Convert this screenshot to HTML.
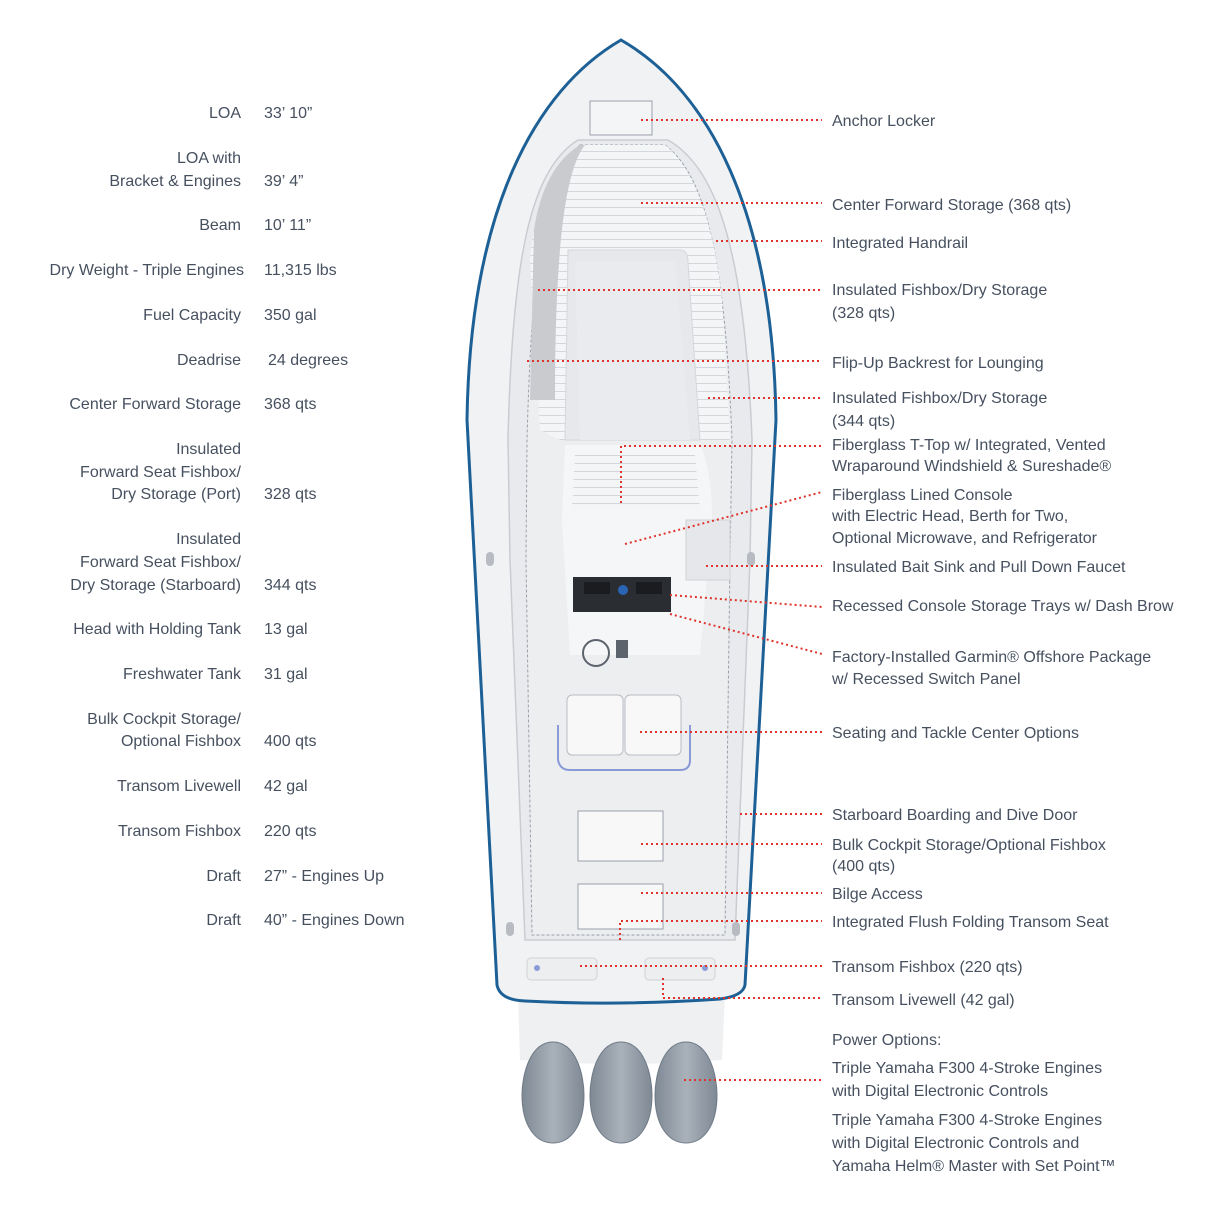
<!DOCTYPE html>
<html><head><meta charset="utf-8"><style>
html,body{margin:0;padding:0;background:#fff}
svg text{font-family:"Liberation Sans",sans-serif;font-size:16px;fill:#46505f}
.r{text-anchor:end}
.d{stroke:#e0332b;stroke-width:2;stroke-dasharray:2 3;fill:none}
</style></head><body>
<svg width="1206" height="1206" viewBox="0 0 1206 1206" xmlns="http://www.w3.org/2000/svg">
<defs>
<linearGradient id="eg" x1="0" x2="1"><stop offset="0" stop-color="#7f8994"/><stop offset="0.5" stop-color="#a9b1ba"/><stop offset="1" stop-color="#7f8994"/></linearGradient>
<pattern id="sl" width="10" height="8" patternUnits="userSpaceOnUse"><rect width="10" height="8" fill="#f4f5f6"/><line x1="0" y1="7.5" x2="10" y2="7.5" stroke="#d3d6da" stroke-width="1"/></pattern>
</defs>
<!-- engines base -->
<path d="M518,995 L725,995 L722,1060 Q620,1068 520,1060 Z" fill="#eef0f2"/>
<g fill="url(#eg)" stroke="#6f7a87" stroke-width="1">
<path d="M553,1042 C530,1042 522,1075 522,1095 C522,1125 535,1143 553,1143 C571,1143 584,1125 584,1095 C584,1075 576,1042 553,1042 Z"/>
<path d="M621,1042 C598,1042 590,1075 590,1095 C590,1125 603,1143 621,1143 C639,1143 652,1125 652,1095 C652,1075 644,1042 621,1042 Z"/>
<path d="M686,1042 C663,1042 655,1075 655,1095 C655,1125 668,1143 686,1143 C704,1143 717,1125 717,1095 C717,1075 709,1042 686,1042 Z"/>
</g>
<!-- hull -->
<path d="M621,40 C535,90 470,210 467,420 L497,985 Q500,1000 525,1001 Q620,1006 720,999 Q743,996 745,985 L776,420 C773,210 708,90 621,40 Z" fill="#f1f2f4" stroke="#1d6096" stroke-width="3"/>
<!-- bow cockpit -->
<path d="M578,140 L668,140 C720,170 745,260 752,440 L750,560 L735,940 L525,940 L510,560 L508,440 C512,260 530,170 578,140 Z" fill="#e8eaed" stroke="#c9ccd1" stroke-width="1.5"/>
<path d="M580,145 L665,145 C705,175 725,255 732,440 L730,560 L725,935 L532,935 L526,560 L527,440 C532,255 545,175 580,145 Z" fill="#eceef0" stroke="#9aa0aa" stroke-width="1" stroke-dasharray="3 2"/>
<path d="M530,260 C535,200 555,165 582,145 L665,145 C690,165 712,210 722,300 L730,440 L560,440 L540,430 Z" fill="url(#sl)"/>
<path d="M534,230 C540,190 555,160 580,145 L585,145 C565,170 555,250 555,400 L530,400 Z" fill="#c9cbcf"/>
<!-- center seat island -->
<path d="M568,250 L680,250 Q688,250 688,262 L700,440 L565,440 Z" fill="#e6e8eb" stroke="#d5d7db"/>
<path d="M575,262 L675,262 L690,440 L580,440 Z" fill="#e9ebee"/>
<!-- anchor locker -->
<rect x="590" y="101" width="62" height="34" fill="#f4f5f6" stroke="#9aa0aa"/>
<!-- console -->
<path d="M565,445 L700,445 Q712,470 712,520 L700,655 L570,655 L562,520 Z" fill="#f5f6f7"/>
<path d="M575,455 L695,455 L700,510 L572,510 Z" fill="url(#sl)"/>
<rect x="686" y="520" width="44" height="60" fill="#e5e7ea" stroke="#cfd2d6"/>
<rect x="573" y="577" width="98" height="35" fill="#2a2d31"/>
<rect x="584" y="582" width="26" height="12" fill="#1a1c1f"/><rect x="636" y="582" width="26" height="12" fill="#1a1c1f"/>
<circle cx="623" cy="590" r="5" fill="#2a64b5"/>
<circle cx="596" cy="653" r="13" fill="none" stroke="#5c636c" stroke-width="2"/>
<rect x="616" y="640" width="12" height="18" fill="#5c636c"/>
<!-- seats -->
<rect x="567" y="695" width="56" height="60" rx="5" fill="#f8f8f9" stroke="#b8bcc2"/>
<rect x="625" y="695" width="56" height="60" rx="5" fill="#f8f8f9" stroke="#b8bcc2"/>
<path d="M558,725 L558,760 Q560,770 570,770 L680,770 Q690,770 690,760 L690,725" fill="none" stroke="#8a9ad6" stroke-width="2"/>
<!-- hatches -->
<rect x="578" y="811" width="85" height="50" fill="#f8f8f9" stroke="#9aa0aa"/>
<rect x="578" y="884" width="85" height="45" fill="#f8f8f9" stroke="#9aa0aa"/>
<rect x="527" y="958" width="70" height="22" rx="4" fill="#eceef0" stroke="#cfd2d6"/>
<rect x="645" y="958" width="70" height="22" rx="4" fill="#eceef0" stroke="#cfd2d6"/>
<circle cx="537" cy="968" r="3" fill="#8a9ad6"/><circle cx="705" cy="968" r="3" fill="#8a9ad6"/>
<g fill="#b8bcc2"><rect x="486" y="552" width="8" height="14" rx="4"/><rect x="747" y="552" width="8" height="14" rx="4"/><rect x="506" y="922" width="8" height="14" rx="4"/><rect x="732" y="922" width="8" height="14" rx="4"/></g>
<!-- connectors -->
<path class="d" d="M641,120H822M641,203H822M716,241H822M538,290H822M527,361H822M708,398H822M621,503V446H822M625,544L822,492M706,566H822M670,595L822,607M670,614L822,654M640,732H822M740,814H822M641,844H822M641,893H822M620,940V921H822M580,966H822M663,978V998H822M684,1080H822"/>
<!-- left labels -->
<g>
<text class="r" x="241" y="118">LOA</text><text x="264" y="118">33’ 10”</text>
<text class="r" x="241" y="163">LOA with</text><text class="r" x="241" y="186">Bracket &amp; Engines</text><text x="264" y="186">39’ 4”</text>
<text class="r" x="241" y="230">Beam</text><text x="264" y="230">10’ 11”</text>
<text class="r" x="244" y="275">Dry Weight - Triple Engines</text><text x="264" y="275">11,315 lbs</text>
<text class="r" x="241" y="320">Fuel Capacity</text><text x="264" y="320">350 gal</text>
<text class="r" x="241" y="365">Deadrise</text><text x="268" y="365">24 degrees</text>
<text class="r" x="241" y="409">Center Forward Storage</text><text x="264" y="409">368 qts</text>
<text class="r" x="241" y="454">Insulated</text><text class="r" x="241" y="477">Forward Seat Fishbox/</text><text class="r" x="241" y="499">Dry Storage (Port)</text><text x="264" y="499">328 qts</text>
<text class="r" x="241" y="544">Insulated</text><text class="r" x="241" y="567">Forward Seat Fishbox/</text><text class="r" x="241" y="590">Dry Storage (Starboard)</text><text x="264" y="590">344 qts</text>
<text class="r" x="241" y="634">Head with Holding Tank</text><text x="264" y="634">13 gal</text>
<text class="r" x="241" y="679">Freshwater Tank</text><text x="264" y="679">31 gal</text>
<text class="r" x="241" y="724">Bulk Cockpit Storage/</text><text class="r" x="241" y="746">Optional Fishbox</text><text x="264" y="746">400 qts</text>
<text class="r" x="241" y="791">Transom Livewell</text><text x="264" y="791">42 gal</text>
<text class="r" x="241" y="836">Transom Fishbox</text><text x="264" y="836">220 qts</text>
<text class="r" x="241" y="881">Draft</text><text x="264" y="881">27” - Engines Up</text>
<text class="r" x="241" y="925">Draft</text><text x="264" y="925">40” - Engines Down</text>
</g>
<!-- right labels -->
<g>
<text x="832" y="126">Anchor Locker</text>
<text x="832" y="210">Center Forward Storage (368 qts)</text>
<text x="832" y="248">Integrated Handrail</text>
<text x="832" y="295">Insulated Fishbox/Dry Storage</text><text x="832" y="318">(328 qts)</text>
<text x="832" y="368">Flip-Up Backrest for Lounging</text>
<text x="832" y="403">Insulated Fishbox/Dry Storage</text><text x="832" y="426">(344 qts)</text>
<text x="832" y="450">Fiberglass T-Top w/ Integrated, Vented</text><text x="832" y="471">Wraparound Windshield &amp; Sureshade®</text>
<text x="832" y="500">Fiberglass Lined Console</text><text x="832" y="521">with Electric Head, Berth for Two,</text><text x="832" y="543">Optional Microwave, and Refrigerator</text>
<text x="832" y="572">Insulated Bait Sink and Pull Down Faucet</text>
<text x="832" y="611">Recessed Console Storage Trays w/ Dash Brow</text>
<text x="832" y="662">Factory-Installed Garmin® Offshore Package</text><text x="832" y="684">w/ Recessed Switch Panel</text>
<text x="832" y="738">Seating and Tackle Center Options</text>
<text x="832" y="820">Starboard Boarding and Dive Door</text>
<text x="832" y="850">Bulk Cockpit Storage/Optional Fishbox</text><text x="832" y="871">(400 qts)</text>
<text x="832" y="899">Bilge Access</text>
<text x="832" y="927">Integrated Flush Folding Transom Seat</text>
<text x="832" y="972">Transom Fishbox (220 qts)</text>
<text x="832" y="1005">Transom Livewell (42 gal)</text>
<text x="832" y="1045">Power Options:</text>
<text x="832" y="1073">Triple Yamaha F300 4-Stroke Engines</text><text x="832" y="1096">with Digital Electronic Controls</text>
<text x="832" y="1125">Triple Yamaha F300 4-Stroke Engines</text><text x="832" y="1148">with Digital Electronic Controls and</text><text x="832" y="1171">Yamaha Helm® Master with Set Point™</text>
</g>
</svg>
</body></html>
